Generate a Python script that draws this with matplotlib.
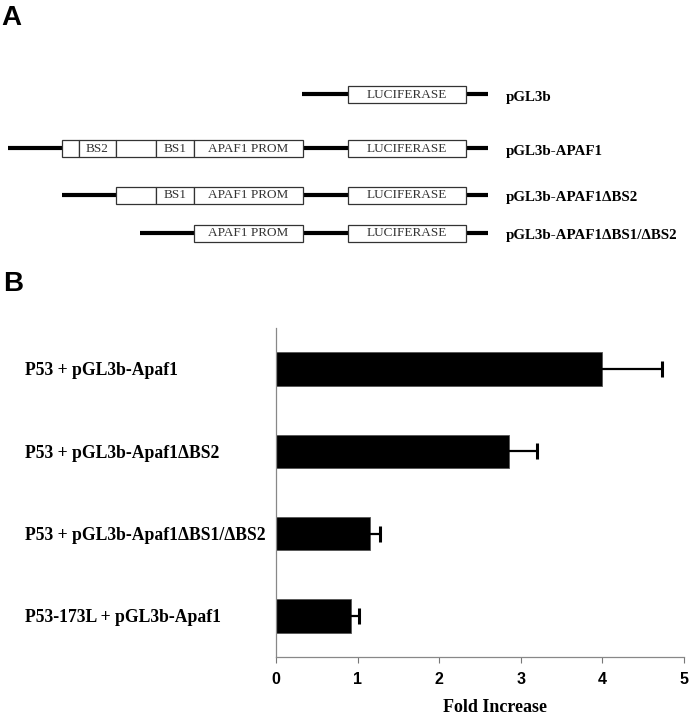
import matplotlib
matplotlib.use("Agg")
import matplotlib.pyplot as plt
from matplotlib.patches import Rectangle
from matplotlib.transforms import blended_transform_factory

# ---------------- Panel B data ----------------
conditions = ["P53 + pGL3b-Apaf1",
              "P53 + pGL3b-Apaf1\u0394BS2",
              "P53 + pGL3b-Apaf1\u0394BS1/\u0394BS2",
              "P53-173L + pGL3b-Apaf1"]
fold_increase = [4.0, 2.85, 1.15, 0.92]
fold_error = [0.73, 0.35, 0.12, 0.10]
x_ticks = [0, 1, 2, 3, 4, 5]

# ---------------- Panel A data (diagram units) ----------------
construct_names = ["pGL3b", "pGL3b-APAF1", "pGL3b-APAF1\u0394BS2",
                   "pGL3b-APAF1\u0394BS1/\u0394BS2"]
construct_start = [302, 8, 62, 140]        # left end of vector line
construct_boxes = [
    [("LUCIFERASE", 348, 466)],
    [("", 62, 78.7), ("BS2", 78.7, 116), ("", 116, 156), ("BS1", 156, 194),
     ("APAF1 PROM", 194, 303), ("LUCIFERASE", 348, 466)],
    [("", 116, 156), ("BS1", 156, 194), ("APAF1 PROM", 194, 303),
     ("LUCIFERASE", 348, 466)],
    [("APAF1 PROM", 194, 303), ("LUCIFERASE", 348, 466)],
]
construct_end = 488
row_y = [94, 148, 195, 233]

W, H = 697, 719
fig = plt.figure(figsize=(W / 100, H / 100), dpi=100)

# ---------------- Panel A ----------------
axd = fig.add_axes([0, 0, 1, 1])
axd.set_xlim(0, W)
axd.set_ylim(H, 0)
axd.axis("off")

box_h = 17
for name, x0, boxes, y in zip(construct_names, construct_start, construct_boxes, row_y):
    axd.plot([x0, construct_end], [y, y], color="black", lw=3.0,
             solid_capstyle="butt", zorder=1)
    for lab, b0, b1 in boxes:
        axd.add_patch(Rectangle((b0, y - box_h / 2), b1 - b0, box_h,
                                facecolor="white", edgecolor="#333333",
                                lw=0.9, zorder=2))
        if lab:
            axd.text((b0 + b1) / 2, y + 0.5, lab, ha="center", va="center",
                     fontsize=9.5, family="Liberation Serif", color="#333333",
                     zorder=3)
    axd.text(506, y + 3, name, ha="left", va="center", fontsize=10.8,
             family="Liberation Serif", fontweight="bold")

axd.text(1, 18, "A", ha="left", va="center", fontsize=20,
         family="Liberation Sans", fontweight="bold")
axd.text(3, 284, "B", ha="left", va="center", fontsize=20,
         family="Liberation Sans", fontweight="bold")

# ---------------- Panel B ----------------
left, right, top, bottom = 276, 684, 328, 657
ax = fig.add_axes([left / W, 1 - bottom / H, (right - left) / W, (bottom - top) / H])
ypos = list(range(len(conditions)))
ax.barh(ypos, fold_increase, height=0.41, color="black", edgecolor="#555555",
        lw=0.6, zorder=2)
err_end = [v + e for v, e in zip(fold_increase, fold_error)]
ax.hlines(ypos, fold_increase, err_end, color="black", lw=1.6, zorder=3)
ax.plot(err_end, ypos, ls="none", marker="|", markersize=11, mew=2.2,
        color="black", zorder=3)
ax.set_xlim(0, 5)
ax.set_ylim(3.5, -0.5)
ax.set_xticks(x_ticks)
ax.set_xticklabels([str(t) for t in x_ticks], family="Liberation Sans",
                   fontweight="bold", fontsize=11.5)
ax.set_yticks(ypos)
ax.set_yticklabels([])
ax.tick_params(axis="y", length=0)
ax.tick_params(axis="x", length=4, width=0.8, color="#777777", pad=7)
for s in ["top", "right"]:
    ax.spines[s].set_visible(False)
for s in ["left", "bottom"]:
    ax.spines[s].set_color("#888888")
    ax.spines[s].set_linewidth(0.9)

trans = blended_transform_factory(axd.transData, ax.transData)
for lab, yp in zip(conditions, ypos):
    ax.text(25, yp + 0.02, lab, transform=trans, ha="left", va="center",
            fontsize=12.7, family="Liberation Serif", fontweight="bold")

fig.text(495 / W, 1 - 707 / H, "Fold Increase", ha="center", va="center",
         fontsize=13, family="Liberation Serif", fontweight="bold")

fig.savefig("out.png", dpi=100)
